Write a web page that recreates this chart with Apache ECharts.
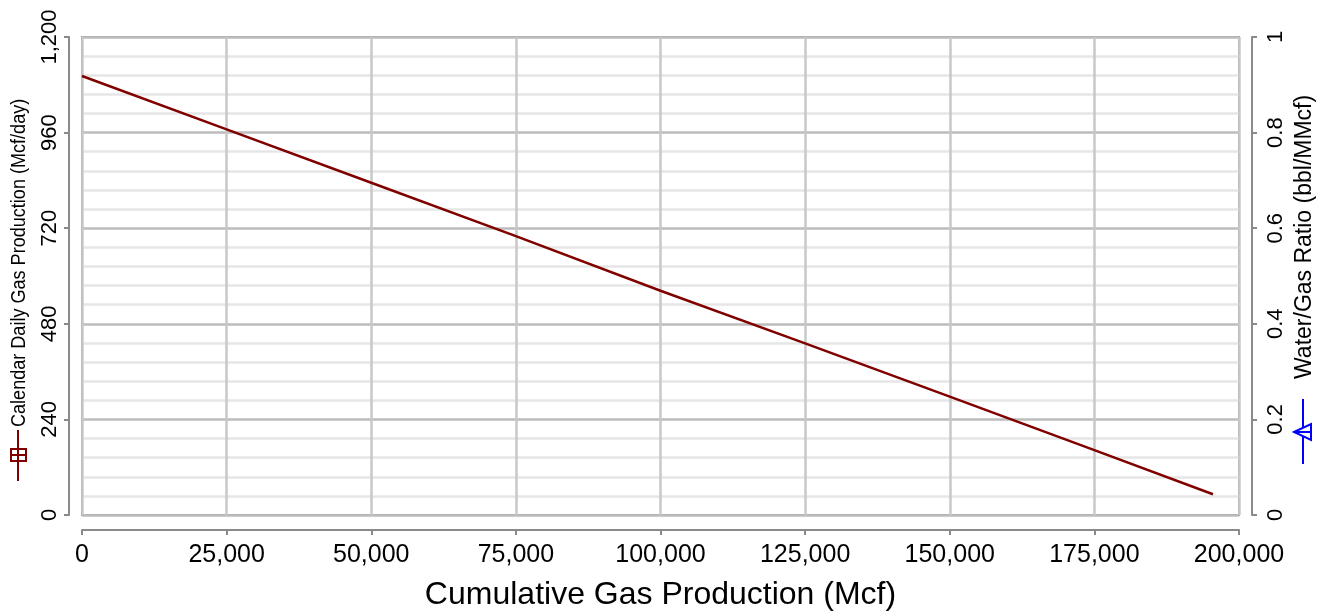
<!DOCTYPE html>
<html>
<head>
<meta charset="utf-8">
<script src="https://cdn.jsdelivr.net/npm/echarts@6/dist/echarts.min.js"></script>
<style>
  html, body { margin: 0; padding: 0; background: #fff; }
  #chart { width: 1332px; height: 616px; }
</style>
</head>
<body>
<div id="chart"></div>
<script>
// Cumulative gas (Mcf) vs calendar daily gas rate (Mcf/day)
const cumGas = [0, 25000, 50000, 75000, 100000, 125000, 150000, 175000, 195500];
const gasRate = [1102, 968, 834, 700, 563, 431, 297, 163, 52];
// Water/gas ratio series (no readings in this period)
const wgr = [];

const xTicks = { min: 0, max: 200000, step: 25000 };
const rateTicks = { min: 0, max: 1200, step: 240 };
const wgrTicks = { min: 0, max: 1, step: 0.2 };

const xTitle = 'Cumulative Gas Production (Mcf)';
const rateTitle = 'Calendar Daily Gas Production (Mcf/day)';
const wgrTitle = 'Water/Gas Ratio (bbl/MMcf)';

const RATE_COLOR = '#800000';
const WGR_COLOR = '#0000ff';
const AXIS_COLOR = '#8a8a8a';
const FONT = "'Liberation Sans', Arial, sans-serif";

const fmt = v => v.toLocaleString('en-US');

const chart = echarts.init(document.getElementById('chart'), null, { renderer: 'canvas' });

const axisBase = {
  type: 'value',
  axisLine: { show: true, onZero: false, lineStyle: { color: AXIS_COLOR, width: 2 } },
  axisTick: { show: true, length: 5, lineStyle: { color: AXIS_COLOR, width: 2 } },
};

chart.setOption({
  animation: false,
  grid: {
    left: 82, right: 93, top: 37, bottom: 99,
    show: true, borderColor: '#9a9a9a', borderWidth: 2, backgroundColor: 'transparent'
  },
  xAxis: Object.assign({}, axisBase, {
    min: xTicks.min, max: xTicks.max, interval: xTicks.step,
    position: 'bottom', offset: 15,
    name: xTitle, nameLocation: 'middle', nameGap: 49,
    nameTextStyle: { fontFamily: FONT, fontSize: 32, color: '#000' },
    axisLabel: { fontFamily: FONT, fontSize: 25, color: '#000', margin: 13, formatter: fmt },
    splitLine: { show: true, lineStyle: { color: '#c8c8c8', width: 2.5 } }
  }),
  yAxis: [
    Object.assign({}, axisBase, {
      min: rateTicks.min, max: rateTicks.max, interval: rateTicks.step,
      position: 'left', offset: 13,
      axisLabel: { fontFamily: FONT, fontSize: 22, color: '#000', rotate: 90, margin: 8, formatter: fmt },
      splitLine: { show: true, lineStyle: { color: '#bcbcbc', width: 2.5 } },
      minorTick: { show: false, splitNumber: 5 },
      minorSplitLine: { show: true, lineStyle: { color: '#e6e6e6', width: 2.5 } }
    }),
    Object.assign({}, axisBase, {
      min: wgrTicks.min, max: wgrTicks.max, interval: wgrTicks.step,
      position: 'right', offset: 13,
      axisLabel: { fontFamily: FONT, fontSize: 22, color: '#000', rotate: 90, margin: 13,
        formatter: v => String(+v.toFixed(1)) },
      splitLine: { show: false }
    })
  ],
  series: [
    {
      name: rateTitle, type: 'line', yAxisIndex: 0,
      data: cumGas.map((x, i) => [x, gasRate[i]]),
      showSymbol: false, symbol: 'none',
      lineStyle: { color: RATE_COLOR, width: 2.5 }
    },
    {
      name: wgrTitle, type: 'line', yAxisIndex: 1,
      data: wgr, showSymbol: false,
      lineStyle: { color: WGR_COLOR, width: 2 }
    }
  ],
  graphic: [
    // left axis title (condensed) with its legend key underneath
    {
      type: 'text', x: 19, y: 427, rotation: Math.PI / 2, scaleX: 0.86,
      style: { text: rateTitle, font: '21px ' + FONT,
        fill: '#000', align: 'left', verticalAlign: 'middle' }
    },
    { type: 'line', shape: { x1: 18, y1: 430, x2: 18, y2: 481 }, style: { stroke: RATE_COLOR, lineWidth: 2 } },
    { type: 'rect', shape: { x: 11, y: 449, width: 15, height: 12 },
      style: { fill: '#fff', stroke: RATE_COLOR, lineWidth: 2 } },
    { type: 'line', shape: { x1: 18, y1: 449, x2: 18, y2: 461 }, style: { stroke: RATE_COLOR, lineWidth: 2 } },
    { type: 'line', shape: { x1: 11, y1: 455, x2: 26, y2: 455 }, style: { stroke: RATE_COLOR, lineWidth: 2 } },
    // right axis title with its legend key underneath
    {
      type: 'text', x: 1305, y: 379, rotation: Math.PI / 2,
      style: { text: wgrTitle, font: '23px ' + FONT, fill: '#000', align: 'left', verticalAlign: 'middle' }
    },
    { type: 'line', shape: { x1: 1303, y1: 399, x2: 1303, y2: 464 }, style: { stroke: WGR_COLOR, lineWidth: 2 } },
    { type: 'polygon', shape: { points: [[1294, 432], [1311, 424], [1311, 440]] },
      style: { fill: '#fff', stroke: WGR_COLOR, lineWidth: 2 } },
    { type: 'line', shape: { x1: 1294, y1: 432, x2: 1311, y2: 432 }, style: { stroke: WGR_COLOR, lineWidth: 2 } }
  ]
});
</script>
</body>
</html>
